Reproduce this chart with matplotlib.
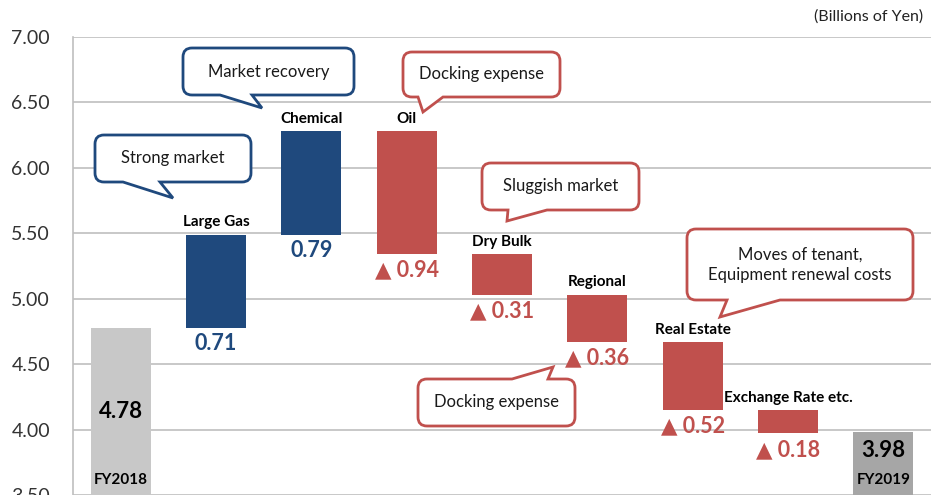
import matplotlib
matplotlib.use("Agg")
import matplotlib.pyplot as plt
import matplotlib.transforms as mtransforms
from matplotlib.path import Path
from matplotlib.patches import PathPatch
import numpy as np

# ---------------- data ----------------
categories = ["FY2018", "Large Gas", "Chemical", "Oil", "Dry Bulk",
              "Regional", "Real Estate", "Exchange Rate etc.", "FY2019"]
start_total = 4.78
changes = [0.71, 0.79, -0.94, -0.31, -0.36, -0.52, -0.18]
end_total = 3.98
yticks = [3.50, 4.00, 4.50, 5.00, 5.50, 6.00, 6.50, 7.00]
unit_label = "(Billions of Yen)"

BLUE = "#1F497D"
RED = "#C0504D"
GRAY1 = "#C8C8C8"
GRAY2 = "#A6A6A6"
GRID = "#BFBFBF"

FONT = ["Lato", "DejaVu Sans"]
plt.rcParams["font.family"] = FONT

W, H = 933, 495
fig = plt.figure(figsize=(W / 100, H / 100), dpi=100)
ax = fig.add_axes([73 / W, 0.0, (931 - 73) / W, 1 - 37 / H])

# waterfall geometry from data
cum = np.concatenate([[start_total], start_total + np.cumsum(changes)])
bottoms, heights, colors = [], [], []
bottoms.append(0)
heights.append(start_total)
colors.append(GRAY1)
for i, c in enumerate(changes):
    lo = min(cum[i], cum[i + 1])
    bottoms.append(lo)
    heights.append(abs(c))
    colors.append(BLUE if c > 0 else RED)
bottoms.append(0)
heights.append(end_total)
colors.append(GRAY2)

x = np.arange(len(categories))
ax.bar(x, heights, bottom=bottoms, width=0.63, color=colors, zorder=3)

ax.set_xlim(-0.5, len(categories) - 0.5)
ax.set_ylim(3.5, 7.0)
ax.set_yticks(yticks)
ax.set_yticklabels([f"{v:.2f}" for v in yticks], fontsize=14, color="#333333")
ax.set_xticks([])
ax.tick_params(axis="y", length=0, pad=16.5)
ax.yaxis.grid(True, color=GRID, lw=1.2, zorder=0)
for s in ["top", "right", "bottom"]:
    ax.spines[s].set_visible(False)
ax.spines["left"].set_color(GRID)
ax.spines["left"].set_linewidth(1.2)

# category and value labels for change bars
for i, c in enumerate(changes):
    xi = i + 1
    top = max(cum[i], cum[i + 1])
    bot = min(cum[i], cum[i + 1])
    ax.annotate(categories[xi], xy=(xi, top), xytext=(0, 6), textcoords="offset points",
                ha="center", va="baseline", fontsize=11, fontweight="bold", color="black")
    if c > 0:
        txt, col = f"{c:.2f}", BLUE
    else:
        txt, col = f"\u25B2 {abs(c):.2f}", RED
    ax.annotate(txt, xy=(xi, bot), xytext=(0, -4), textcoords="offset points",
                ha="center", va="top", fontsize=15.5, fontweight="bold", color=col)

# totals
total_vals = [start_total, end_total]
total_label_y = [4.14, 3.84]
for k, xi in enumerate([0, len(categories) - 1]):
    ax.text(xi, total_label_y[k], f"{total_vals[k]:.2f}", ha="center", va="center",
            fontsize=16, fontweight="bold", color="black", zorder=4)
    ax.annotate(categories[xi], xy=(xi, 3.5), xytext=(0, 10.5), textcoords="offset points",
                ha="center", va="center", fontsize=11, fontweight="bold", color="black", zorder=4)

# pixel transform (top-left origin)
pix = mtransforms.Affine2D().scale(1 / W, -1 / H).translate(0, 1) + fig.transFigure

fig.text(923, 17, unit_label, transform=pix, ha="right", va="center", fontsize=11.5, color="#222222")


def callout(box, base, tip, side, color, text, r=9):
    x0, y0, x1, y1 = box
    verts, codes = [], []

    def mv(p):
        verts.append(p); codes.append(Path.MOVETO)

    def ln(p):
        verts.append(p); codes.append(Path.LINETO)

    def cv(c, p):
        verts.extend([c, p]); codes.extend([Path.CURVE3, Path.CURVE3])

    mv((x0 + r, y0))
    if side == "top":
        ln((base[0], y0)); ln(tip); ln((base[1], y0))
    ln((x1 - r, y0))
    cv((x1, y0), (x1, y0 + r))
    ln((x1, y1 - r))
    cv((x1, y1), (x1 - r, y1))
    if side == "bottom":
        ln((base[1], y1)); ln(tip); ln((base[0], y1))
    ln((x0 + r, y1))
    cv((x0, y1), (x0, y1 - r))
    ln((x0, y0 + r))
    cv((x0, y0), (x0 + r, y0))
    verts.append((x0 + r, y0)); codes.append(Path.CLOSEPOLY)
    patch = PathPatch(Path(verts, codes), facecolor="white", edgecolor=color, lw=2.0,
                      transform=pix, zorder=5, joinstyle="miter")
    fig.add_artist(patch)
    fig.text((x0 + x1) / 2, (y0 + y1) / 2, text, transform=pix, ha="center", va="center",
             fontsize=12, color="#1a1a1a", zorder=6, linespacing=1.35)


callout((95, 135, 251, 182), (123, 160), (173, 198), "bottom", BLUE, "Strong market")
callout((183, 48, 354, 95), (220, 252), (262, 108), "bottom", BLUE, "Market recovery")
callout((403, 52, 560, 97), (418, 443), (423, 112), "bottom", RED, "Docking expense")
callout((482, 163, 639, 210), (508, 547), (507, 221), "bottom", RED, "Sluggish market")
callout((687, 229, 913, 300), (727, 780), (720, 317), "bottom", RED,
        "Moves of tenant,\nEquipment renewal costs")
callout((418, 379, 575, 426), (512, 548), (553, 367), "top", RED, "Docking expense")

fig.savefig("out.png", dpi=100)
